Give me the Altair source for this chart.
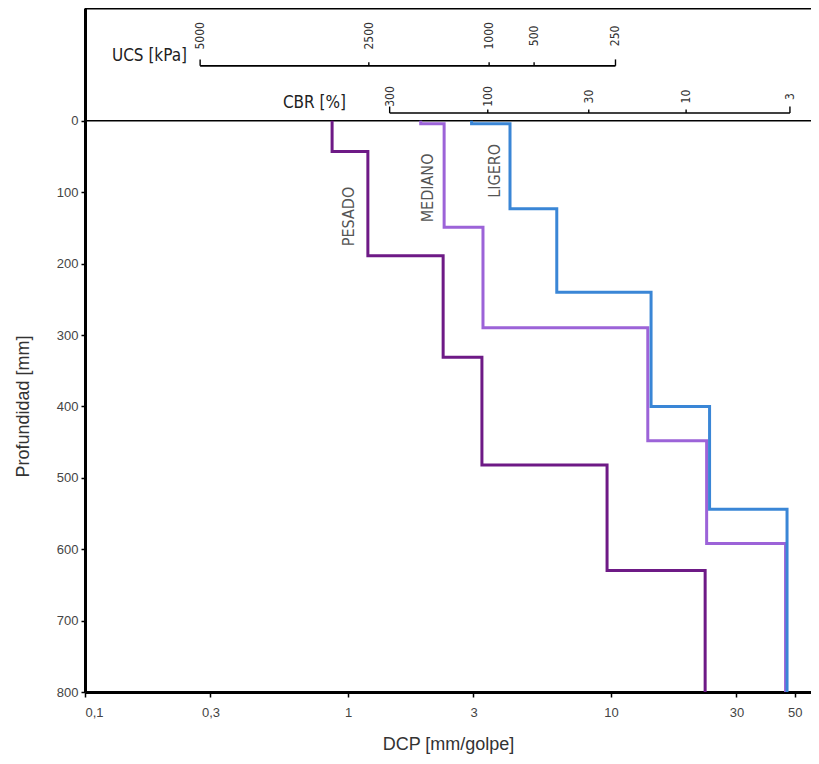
import altair as alt
import pandas as pd

# ---------------- data ----------------
SERIES = ["PESADO", "MEDIANO", "LIGERO"]
SERIES_COLORS = ["#6e1a86", "#9c63d8", "#3a86d6"]

PESADO_DCP = [0.87, 1.19, 2.30, 3.23, 9.66, 22.8]
PESADO_DEPTH = [0, 43, 189, 331, 482, 630, 800]
MEDIANO_DCP = [1.89, 2.32, 3.26, 13.8, 23.1, 46.1]
MEDIANO_DEPTH = [0, 4, 149, 290, 448, 592, 800]
LIGERO_DCP = [2.95, 4.13, 6.22, 14.2, 23.7, 46.7]
LIGERO_DEPTH = [0, 4, 123, 240, 400, 544, 800]

X_TICKS = [0.1, 0.3, 1, 3, 10, 30, 50]
Y_TICKS = [0, 100, 200, 300, 400, 500, 600, 700, 800]

UCS_LABELS = ["5000", "2500", "1000", "500", "250"]
UCS_DCP = [0.274, 1.20, 3.44, 5.10, 10.4]
CBR_LABELS = ["300", "100", "30", "10", "3"]
CBR_DCP = [1.44, 3.40, 8.23, 19.3, 47.9]

LABEL_DCP = [1.01, 2.01, 3.62]
LABEL_DEPTH = [134, 94, 70]

# header layout (in depth units of the y scale, above depth 0)
X_MIN, X_MAX = 0.1, 57.6
Y_TOP = -158
UCS_LINE, CBR_LINE = -77, -11
UCS_TEXT, CBR_TEXT = -119, -34

FONT = "Liberation Sans"
NARROW = "Liberation Sans Narrow, DejaVu Sans Condensed, sans-serif"


def steps(name, dcp, depth):
    rows = []
    k = 0
    for i, v in enumerate(dcp):
        rows.append({"serie": name, "dcp": v, "depth": depth[i], "k": k})
        k += 1
        rows.append({"serie": name, "dcp": v, "depth": depth[i + 1], "k": k})
        k += 1
    return pd.DataFrame(rows)


x_scale = alt.Scale(type="log", domain=[X_MIN, X_MAX], nice=False)
y_scale = alt.Scale(domain=[Y_TOP, 800], reverse=True, nice=False, zero=False)

x_axis = alt.Axis(
    values=X_TICKS,
    labelExpr="replace(toString(datum.value), '.', ',')",
    title="DCP [mm/golpe]",
    grid=False,
    domainColor="black",
    domainWidth=3,
    tickColor="black",
    tickWidth=1.5,
    tickSize=5,
    labelFont=FONT,
    labelFontSize=13,
    labelColor="#444",
    labelPadding=9,
    titleFont=FONT,
    titleFontSize=18,
    titleFontWeight="normal",
    titleColor="#333",
    titleY=52,
    titleBaseline="middle",
)
y_axis = alt.Axis(
    values=Y_TICKS,
    title="Profundidad [mm]",
    grid=False,
    domainColor="black",
    domainWidth=3,
    tickColor="black",
    tickWidth=1.5,
    tickSize=4,
    labelFont=FONT,
    labelFontSize=13,
    labelColor="#444",
    labelPadding=3,
    titleFont=FONT,
    titleFontSize=18,
    titleFontWeight="normal",
    titleColor="#333",
    titleX=-62,
    titleY=398,
    titleAngle=270,
    titleAlign="center",
    titleBaseline="middle",
)


def X(field="dcp"):
    return alt.X(f"{field}:Q", scale=x_scale, axis=x_axis)


def Y(field="depth"):
    return alt.Y(f"{field}:Q", scale=y_scale, axis=y_axis)


layers = []

# frame top and depth-0 line
frame = pd.DataFrame({"dcp": [X_MIN, X_MIN], "dcp2": [X_MAX, X_MAX], "depth": [Y_TOP, 0], "w": [3, 1.6]})
layers.append(
    alt.Chart(frame).mark_rule(color="black").encode(
        x=X(), x2="dcp2:Q", y=Y(), strokeWidth=alt.StrokeWidth("w:Q", scale=None)
    )
)

# step lines
series_data = [
    steps("PESADO", PESADO_DCP, PESADO_DEPTH),
    steps("MEDIANO", MEDIANO_DCP, MEDIANO_DEPTH),
    steps("LIGERO", LIGERO_DCP, LIGERO_DEPTH),
]
for df, col in zip(series_data, SERIES_COLORS):
    layers.append(
        alt.Chart(df).mark_line(color=col, strokeWidth=3, strokeJoin="miter").encode(
            x=X(), y=Y(), order="k:Q"
        )
    )

# series labels
lab = pd.DataFrame({"dcp": LABEL_DCP, "depth": LABEL_DEPTH, "t": SERIES})
layers.append(
    alt.Chart(lab).mark_text(angle=270, align="center", baseline="middle", font=NARROW,
                             fontSize=16, color="#555").encode(x=X(), y=Y(), text="t:N")
)

# header scales: UCS and CBR
for vals, labels, line_y, text_y in [
    (UCS_DCP, UCS_LABELS, UCS_LINE, UCS_TEXT),
    (CBR_DCP, CBR_LABELS, CBR_LINE, CBR_TEXT),
]:
    line = pd.DataFrame({"dcp": [vals[0]], "dcp2": [vals[-1]], "depth": [line_y]})
    layers.append(
        alt.Chart(line).mark_rule(color="black", strokeWidth=1.6).encode(x=X(), x2="dcp2:Q", y=Y())
    )
    ticks = pd.DataFrame({
        "dcp": vals,
        "depth": [line_y] * len(vals),
        "depth2": [line_y - (9 if i in (0, len(vals) - 1) else 5) for i in range(len(vals))],
    })
    layers.append(
        alt.Chart(ticks).mark_rule(color="black", strokeWidth=1.4).encode(x=X(), y=Y(), y2="depth2:Q")
    )
    txt = pd.DataFrame({"dcp": vals, "depth": [text_y] * len(vals), "t": labels})
    layers.append(
        alt.Chart(txt).mark_text(angle=270, align="center", baseline="middle", font=NARROW,
                                 fontSize=12, color="#333").encode(x=X(), y=Y(), text="t:N")
    )

head = pd.DataFrame({"dcp": [0.2443, 0.983], "depth": [-91, -25], "t": ["UCS [kPa]", "CBR [%]"]})
layers.append(
    alt.Chart(head).mark_text(align="right", baseline="middle", font=NARROW, fontSize=17,
                              color="#222").encode(x=X(), y=Y(), text="t:N")
)

chart = alt.layer(*layers).properties(
    width=726,
    height=684,
    padding={"left": 77, "top": 0, "right": 0, "bottom": 72},
    autosize=alt.AutoSizeParams(type="none"),
).configure_view(stroke=None)

chart.save("out.html", embed_options={"renderer": "svg", "actions": False})
